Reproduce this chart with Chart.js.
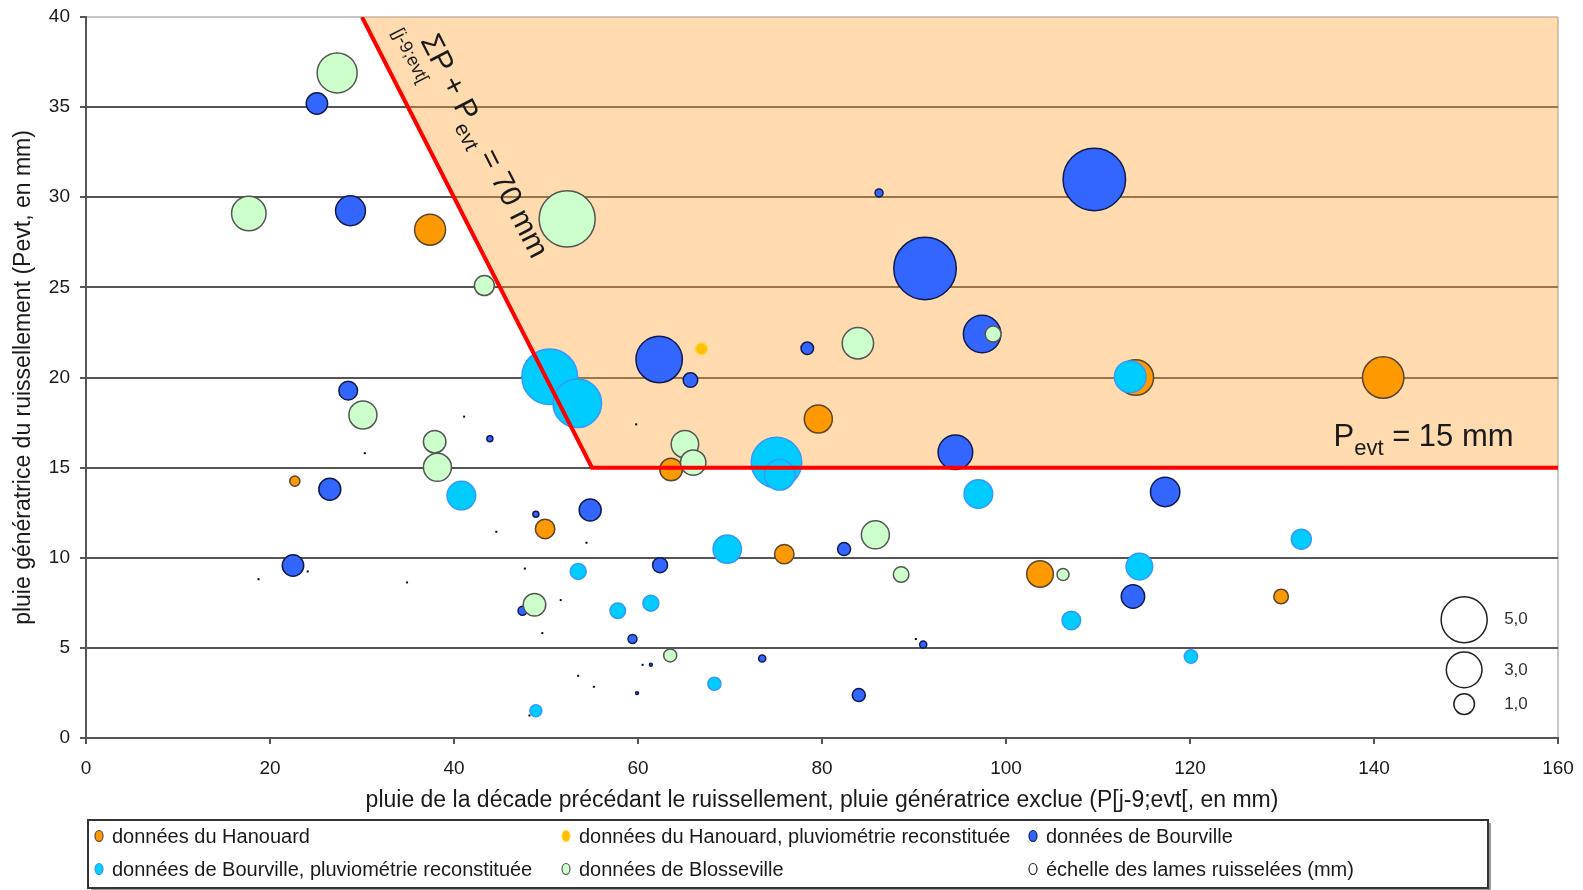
<!DOCTYPE html>
<html lang="fr">
<head>
<meta charset="utf-8">
<title>Pluie génératrice / pluie de la décade précédente</title>
<script src="https://cdn.jsdelivr.net/npm/chart.js@4.4.1/dist/chart.umd.min.js"></script>
<style>
  html, body { margin: 0; padding: 0; background: #fff; }
  #wrap { width: 1583px; height: 890px; }
</style>
</head>
<body>
<div id="wrap"><canvas id="chart" width="1583" height="890"></canvas></div>
<script>
/* Lames ruisselées en fonction de la pluie génératrice et de la pluie de la décade précédente */

// ── Data ──────────────────────────────────────────────────────────────────
// X = pluie de la décade précédente (mm), Y = pluie génératrice (mm), L = lame ruisselée (mm)

const hanX = [37.4, 22.7, 49.9, 79.6, 63.6, 75.9, 114.1, 141.0, 103.7, 129.9];
const hanY = [28.2, 14.25, 11.6, 17.7, 14.9, 10.2, 20.0, 20.0, 9.1, 7.85];
const hanL = [2.26, 0.24, 0.89, 1.85, 1.2, 0.89, 3.0, 4.04, 1.67, 0.5];

const hanRecX = [66.9];
const hanRecY = [21.6];
const hanRecL = [0.34];

const bouX = [25.1, 28.75, 28.5, 43.9, 26.5, 54.8, 48.9, 22.5, 47.45, 97.4, 62.3, 65.7, 78.4, 94.5,
              82.4, 62.4, 59.4, 61.4, 73.5, 59.9, 84.0, 91.0, 86.2, 91.2, 109.6, 117.3, 113.8];
const bouY = [35.2, 29.25, 19.27, 16.6, 13.8, 12.65, 12.42, 9.57, 7.06, 22.41, 21.0, 19.86, 21.62, 15.85,
              10.48, 9.59, 5.49, 4.06, 4.41, 2.49, 2.38, 5.19, 30.24, 26.05, 30.99, 13.65, 7.85];
const bouL = [1.08, 2.1, 0.82, 0.085, 1.14, 1.14, 0.085, 1.08, 0.19, 3.3, 5.07, 0.5, 0.37, 2.82,
              0.4, 0.53, 0.19, 0.02, 0.12, 0.02, 0.4, 0.12, 0.15, 9.2, 9.2, 2.03, 1.29];

const bouRecX = [50.4, 53.4, 40.8, 53.5, 48.9, 75.05, 75.4, 97.0, 69.7, 61.4, 57.8, 68.3, 113.5, 132.1, 114.5, 107.1, 120.1];
const bouRecY = [20.04, 18.57, 13.45, 9.24, 1.51, 15.28, 14.6, 13.54, 10.48, 7.48, 7.06, 3.01, 20.04, 11.03, 9.51, 6.52, 4.52];
const bouRecL = [7.3, 5.57, 1.93, 0.6, 0.34, 6.03, 2.2, 1.93, 1.9, 0.6, 0.57, 0.4, 2.36, 0.94, 1.67, 0.82, 0.42];

const bloX = [27.3, 17.7, 52.3, 43.3, 30.1, 37.9, 38.2, 48.75, 98.6, 83.9, 65.1, 66.0, 85.8, 88.6, 63.5, 106.2];
const bloY = [36.9, 29.1, 28.8, 25.1, 17.92, 16.44, 15.02, 7.39, 22.41, 21.9, 16.3, 15.28, 11.27, 9.07, 4.58, 9.07];
const bloL = [3.77, 2.8, 7.4, 0.94, 1.85, 1.2, 1.85, 1.2, 0.6, 2.32, 1.77, 1.52, 1.85, 0.57, 0.4, 0.34];

// événements sans ruissellement (points noirs)
const nulX = [41.1, 30.3, 44.6, 54.4, 24.1, 18.75, 34.9, 47.7, 51.6, 49.6, 53.5, 55.2, 48.2, 59.8, 60.5, 90.2];
const nulY = [17.83, 15.8, 11.44, 10.83, 9.24, 8.81, 8.63, 9.4, 7.65, 5.82, 3.45, 2.84, 1.25, 17.4, 4.06, 5.49];

// échelle des lames
const scaleX = [149.8, 149.8, 149.8];
const scaleY = [6.56, 3.78, 1.88];
const scaleL = [5, 3, 1];

// seuil : somme P + Pevt = 70 mm, puis Pevt = 15 mm
const limitX = [30, 55, 160];
const limitY = [40, 15, 15];

const X_TITLE = 'pluie de la décade précédant le ruissellement, pluie génératrice exclue (P[j-9;evt[, en mm)';
const Y_TITLE = 'pluie génératrice du ruissellement (Pevt, en mm)';

// ── Style ─────────────────────────────────────────────────────────────────

const FONT   = "'Liberation Sans', Arial, sans-serif";
const R_UNIT = 10.3;               // px de rayon pour 1 mm de lame (aire proportionnelle)
const TEXT   = '#1a1a1a';
const GRID   = '#555555';

const SUM_LABEL_AT  = [36.3, 38.7];   // début du libellé oblique (unités des axes)
const PEVT_LABEL_AT = [135.6, 16.2];

Chart.defaults.font.family = FONT;
Chart.defaults.color = TEXT;

const bubbles = (xs, ys, ls) => xs.map((x, i) => ({ x, y: ys[i], r: R_UNIT * Math.sqrt(ls[i]) }));
const points  = (xs, ys) => xs.map((x, i) => ({ x, y: ys[i] }));

const datasets = [
  { label: 'données du Hanouard', data: bubbles(hanX, hanY, hanL),
    backgroundColor: '#FF9900', borderColor: '#5a4630', borderWidth: 1.5, order: 6 },
  { label: 'données du Hanouard, pluviométrie reconstituée', data: bubbles(hanRecX, hanRecY, hanRecL),
    backgroundColor: '#FFC000', borderColor: '#FFD54A', borderWidth: 1.5, order: 5 },
  { label: 'données de Bourville', data: bubbles(bouX, bouY, bouL),
    backgroundColor: '#3366FF', borderColor: '#101a50', borderWidth: 1.5, order: 4 },
  { label: 'données de Bourville, pluviométrie reconstituée', data: bubbles(bouRecX, bouRecY, bouRecL),
    backgroundColor: '#00CCFF', borderColor: '#3399FF', borderWidth: 1.5, order: 3 },
  { label: 'données de Blosseville', data: bubbles(bloX, bloY, bloL),
    backgroundColor: '#CCFFCC', borderColor: '#555555', borderWidth: 1.5, order: 2 },
  { label: 'échelle des lames ruisselées (mm)', data: bubbles(scaleX, scaleY, scaleL), isScale: true,
    backgroundColor: 'rgba(255,255,255,0)', borderColor: '#222', borderWidth: 1.5, order: 2 },
  { label: 'lame nulle', data: points(nulX, nulY).map(p => ({ ...p, r: 1.4 })), hideInLegend: true,
    pointStyle: 'rect', backgroundColor: '#000', borderColor: '#000', borderWidth: 0, order: 1 },
  // zone de ruissellement (remplissage au-dessus du seuil)
  { type: 'line', label: 'zone', data: points(limitX, limitY), hideInLegend: true,
    fill: 'end', backgroundColor: 'rgba(255,165,55,0.40)', borderWidth: 0, pointRadius: 0, order: 20 },
  // seuil en rouge, par-dessus les bulles
  { type: 'line', label: 'seuil', data: points(limitX, limitY), hideInLegend: true,
    fill: false, borderColor: '#FF0000', borderWidth: 4, pointRadius: 0, order: 0 },
];


// ── Annotations (libellés du seuil + étiquettes d'échelle) ───────────────

function drawRuns(ctx, runs, x0, y0) {
  let x = x0;
  runs.forEach(([text, size, dy]) => {
    ctx.font = `${size}px ${FONT}`;
    ctx.fillText(text, x, y0 + dy);
    x += ctx.measureText(text).width;
  });
}

const annotations = {
  id: 'annotations',
  afterDatasetsDraw(chart) {
    const { ctx, scales: { x, y } } = chart;
    ctx.save();
    ctx.fillStyle = TEXT;
    ctx.textBaseline = 'alphabetic';
    ctx.textAlign = 'left';

    // libellé oblique, parallèle au segment du seuil
    const ax = x.getPixelForValue(limitX[0]), ay = y.getPixelForValue(limitY[0]);
    const bx = x.getPixelForValue(limitX[1]), by = y.getPixelForValue(limitY[1]);
    ctx.save();
    ctx.translate(x.getPixelForValue(SUM_LABEL_AT[0]), y.getPixelForValue(SUM_LABEL_AT[1]));
    ctx.rotate(Math.atan2(by - ay, bx - ax));
    ctx.font = `30px ${FONT}`;
    const sigmaW = ctx.measureText('Σ').width;
    drawRuns(ctx, [['Σ', 30, 0], ['P + P', 30, 0], ['evt', 21, 9], [' = 70 mm', 30, 0]], 0, 0);
    ctx.font = `18px ${FONT}`;
    ctx.textAlign = 'center';
    ctx.fillText('[j-9;evt[', sigmaW / 2, 21);
    ctx.restore();

    // Pevt = 15 mm
    drawRuns(ctx, [['P', 31, 0], ['evt', 22, 9], [' = 15 mm', 31, 0]],
      x.getPixelForValue(PEVT_LABEL_AT[0]), y.getPixelForValue(PEVT_LABEL_AT[1]));

    // étiquettes de l'échelle des lames
    const idx = chart.data.datasets.findIndex(d => d.isScale);
    ctx.font = `17px ${FONT}`;
    ctx.fillStyle = '#333';
    ctx.textBaseline = 'middle';
    chart.getDatasetMeta(idx).data.forEach((el, i) => {
      ctx.fillText(scaleL[i].toFixed(1).replace('.', ','), el.x + 40, el.y);
    });
    ctx.restore();
  },
};


// ── Légende encadrée (3 colonnes) ─────────────────────────────────────────

const boxLegend = {
  id: 'boxLegend',
  afterDraw(chart) {
    const { ctx } = chart;
    const left = 88, top = 820, width = 1400, height = 68, colW = 467, rowH = 33;
    ctx.save();
    ctx.fillStyle = '#9a9a9a';
    ctx.fillRect(left + 3, top + 3, width, height);
    ctx.fillStyle = '#fff';
    ctx.fillRect(left, top, width, height);
    ctx.strokeStyle = '#333';
    ctx.lineWidth = 2;
    ctx.strokeRect(left, top, width, height);

    ctx.font = `20px ${FONT}`;
    ctx.textBaseline = 'middle';
    chart.data.datasets.filter(d => !d.hideInLegend).forEach((d, i) => {
      const mx = left + 11 + (i % 3) * colW;
      const my = top + 16 + Math.floor(i / 3) * rowH;
      ctx.beginPath();
      ctx.ellipse(mx, my, 4, 5.5, 0, 0, Math.PI * 2);
      ctx.fillStyle = d.isScale ? '#fff' : d.backgroundColor;
      ctx.fill();
      ctx.lineWidth = 1.2;
      ctx.strokeStyle = d.borderColor;
      ctx.stroke();
      ctx.fillStyle = TEXT;
      ctx.fillText(d.label, mx + 13, my + 1);
    });
    ctx.restore();
  },
};


// ── Chart ─────────────────────────────────────────────────────────────────

new Chart(document.getElementById('chart'), {
  type: 'bubble',
  data: { datasets },
  options: {
    responsive: false,
    animation: false,
    events: [],
    layout: { autoPadding: false, padding: { top: 17, right: 25, left: 0, bottom: 0 } },
    plugins: { legend: { display: false }, tooltip: { enabled: false } },
    scales: {
      x: {
        type: 'linear', min: 0, max: 160,
        ticks: { stepSize: 20, color: TEXT, font: { size: 19 }, padding: 13, maxRotation: 0 },
        grid: {
          color: c => (c.tick && c.tick.value === 160 ? '#c8c8c8' : 'rgba(0,0,0,0)'),
          lineWidth: 2, tickColor: GRID, tickLength: 6,
        },
        border: { color: GRID, width: 2 },
        title: { display: true, text: X_TITLE, color: TEXT, font: { size: 23 }, padding: { top: 4, bottom: 76 } },
        afterFit: s => { s.height = 152; s.paddingLeft = 0; s.paddingRight = 0; },
      },
      y: {
        type: 'linear', min: 0, max: 40,
        ticks: { stepSize: 5, color: TEXT, font: { size: 19 }, padding: 10 },
        grid: {
          color: c => (c.tick && c.tick.value === 40 ? '#c8c8c8' : GRID),
          lineWidth: 2, tickColor: GRID, tickLength: 6,
        },
        border: { color: GRID, width: 2 },
        title: { display: true, text: Y_TITLE, color: TEXT, font: { size: 23 }, padding: { top: 10, bottom: 0 } },
        afterFit: s => { s.width = 86; s.paddingTop = 0; s.paddingBottom = 0; },
      },
    },
  },
  plugins: [annotations, boxLegend],
});
</script>
</body>
</html>
